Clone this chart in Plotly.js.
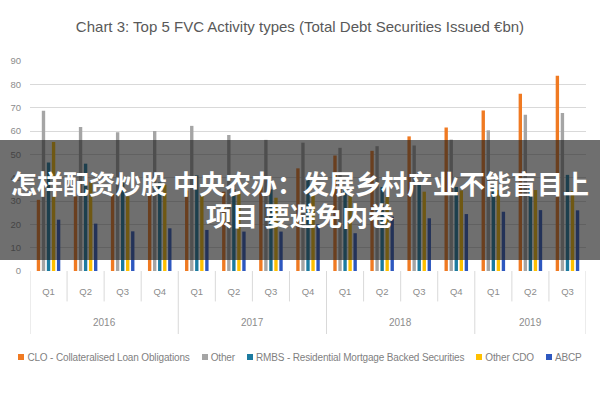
<!DOCTYPE html>
<html>
<head>
<meta charset="utf-8">
<script src="https://cdn.plot.ly/plotly-3.0.1.min.js"></script>
<style>
  html, body { margin: 0; padding: 0; background: #fff; }
  #wrap { position: relative; width: 600px; height: 400px; }
  #chart { width: 600px; height: 400px; }
  #band {
    position: absolute; left: 0; top: 140px; width: 600px; height: 120px;
    background: rgba(30,30,30,0.64);
    color: #fff; font-family: "Noto Sans CJK SC", sans-serif; font-weight: bold;
    font-size: 26px; line-height: 32px; text-align: center; white-space: nowrap;
    padding-top: 27px; box-sizing: border-box; pointer-events: none;
  }
  #legend {
    position: absolute; left: 0; top: 350px; width: 600px; height: 14px;
    display: flex; justify-content: center; align-items: center; gap: 12px;
    font-family: "Liberation Sans", Arial, sans-serif; font-size: 10px; color: #7F7F7F;
    letter-spacing: -0.15px; white-space: nowrap;
  }
  #legend .item { display: flex; align-items: center; gap: 3px; }
  #legend .sw { width: 6px; height: 6px; display: inline-block; }
</style>
</head>
<body>
<div id="wrap">
  <div id="chart"></div>
  <div id="band">怎样配资炒股 中央农办：发展乡村产业不能盲目上<br>项目 要避免内卷</div>
  <div id="legend"></div>
</div>
<script>
const years    = ['2016','2016','2016','2016','2017','2017','2017','2017','2018','2018','2018','2018','2019','2019','2019'];
const quarters = ['Q1','Q2','Q3','Q4','Q1','Q2','Q3','Q4','Q1','Q2','Q3','Q4','Q1','Q2','Q3'];

const seriesNames = ['CLO - Collateralised Loan Obligations', 'Other', 'RMBS - Residential Mortgage Backed Securities', 'Other CDO', 'ABCP'];
const clo      = [30.5, 32, 33, 33.5, 34.5, 34, 37, 44, 49.5, 51.5, 57.7, 61.5, 68.8, 76, 83.7];
const other    = [68.7, 61.7, 59.5, 60, 62.2, 58.3, 56.2, 55, 52.8, 53.5, 53.8, 56.3, 60.3, 67, 67.7];
const rmbs     = [46.5, 46, 40, 38, 41, 35, 35, 39, 35, 36, 37.6, 36, 35.4, 36.5, 41.2];
const otherCdo = [55.3, 38, 32, 37, 33.3, 33.3, 31.4, 33.3, 32.6, 32.6, 34, 34.5, 34.7, 34.7, 34.3];
const abcp     = [22, 20.3, 17, 18.3, 17.6, 16.9, 16.9, 20, 16.2, 23.3, 22.6, 24.4, 25.4, 26.1, 26];

const colors = ['#F07A22', '#A5A5A5', '#1C7BA0', '#FFC000', '#2E58C0'];
const values = [clo, other, rmbs, otherCdo, abcp];

const FONT = '"Liberation Sans", Arial, sans-serif';
const GRID = '#D9D9D9';

// unique category keys, displayed as quarter labels
const keys = years.map((y, i) => y + ' ' + quarters[i]);

const traces = values.map((v, i) => ({
  type: 'bar',
  name: seriesNames[i],
  x: keys,
  y: v,
  marker: { color: colors[i] },
  showlegend: false
}));

// dividers and year labels derived from the category arrays
const shapes = [];
const annotations = [];
const yearList = [...new Set(years)];
for (let i = 0; i <= keys.length; i++) {
  const isYearEdge = i === 0 || i === keys.length || years[i] !== years[i - 1];
  shapes.push({
    type: 'line', xref: 'x', yref: 'paper',
    x0: i - 0.5, x1: i - 0.5,
    y0: 0, y1: isYearEdge ? -0.3 : -0.145,
    line: { color: GRID, width: 1 }
  });
}
yearList.forEach(y => {
  const idx = years.map((v, i) => v === y ? i : -1).filter(i => i >= 0);
  const center = (idx[0] + idx[idx.length - 1]) / 2;
  annotations.push({
    xref: 'x', yref: 'paper', x: center, y: -0.245,
    text: y, showarrow: false, xanchor: 'center', yanchor: 'middle',
    font: { family: FONT, size: 10, color: '#8C8C8C' }
  });
});

const layout = {
  width: 600, height: 400,
  margin: { l: 30, r: 14, t: 61, b: 129 },
  paper_bgcolor: '#fff', plot_bgcolor: '#fff',
  title: {
    text: 'Chart 3: Top 5 FVC Activity types (Total Debt Securities Issued €bn)',
    font: { family: FONT, size: 15, color: '#595959' },
    x: 0.5, xanchor: 'center', y: 0.932, yanchor: 'middle'
  },
  barmode: 'group',
  bargap: 0.32,
  bargroupgap: 0.33,
  yaxis: {
    range: [0, 90], dtick: 10,
    gridcolor: GRID, gridwidth: 1,
    zeroline: false, showline: false,
    tickfont: { family: FONT, size: 9.5, color: '#8C8C8C' },
    ticks: '', ticklabelstandoff: 8
  },
  xaxis: {
    type: 'category',
    categoryarray: keys, categoryorder: 'array',
    tickvals: keys, ticktext: quarters,
    range: [-0.5, keys.length - 0.5],
    showline: false, showgrid: false, ticks: '',
    ticklabelstandoff: 13,
    tickfont: { family: FONT, size: 9.5, color: '#8C8C8C' }
  },
  shapes: shapes,
  annotations: annotations,
  showlegend: false
};

Plotly.newPlot('chart', traces, layout, { displayModeBar: false, staticPlot: true });

// legend (text kept as real text)
const leg = document.getElementById('legend');
seriesNames.forEach((n, i) => {
  const it = document.createElement('span');
  it.className = 'item';
  const sw = document.createElement('span');
  sw.className = 'sw';
  sw.style.background = colors[i];
  const tx = document.createElement('span');
  tx.textContent = n;
  it.appendChild(sw); it.appendChild(tx);
  leg.appendChild(it);
});
</script>
</body>
</html>
